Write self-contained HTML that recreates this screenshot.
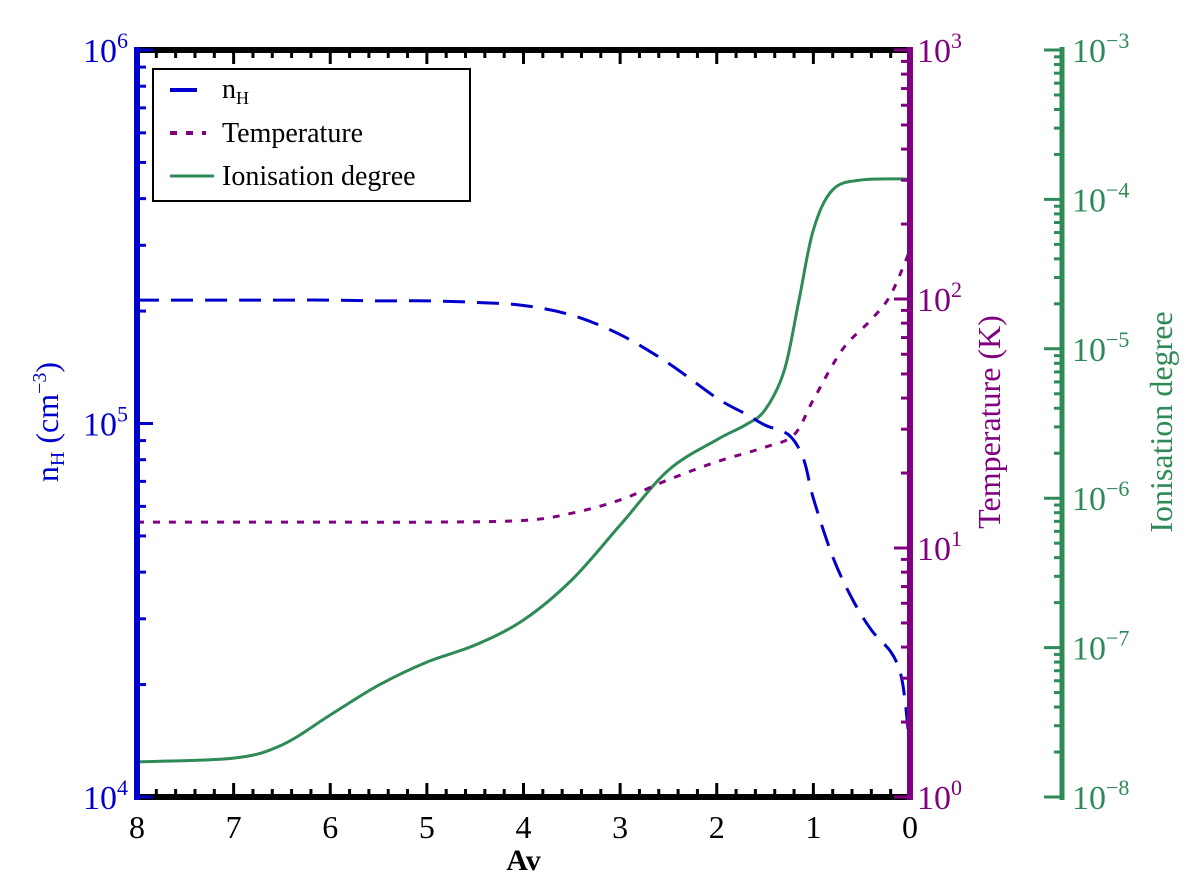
<!DOCTYPE html>
<html><head><meta charset="utf-8"><style>
body{margin:0;background:#fff;}
svg{display:block;font-family:"Liberation Serif",serif;}
</style></head><body>
<svg id="chart" width="1200" height="878" viewBox="0 0 1200 878" xmlns="http://www.w3.org/2000/svg">
<g id="marks"></g>
</svg>
<script>
const av = [8,7,6.5,6,5.5,5,4.5,4,3.5,3,2.5,2,1.7,1.5,1.25,1.1,1,0.8,0.6,0.4,0.2,0.1,0.05,0];
const nH = [2.14e5,2.14e5,2.14e5,2.14e5,2.13e5,2.13e5,2.11e5,2.07e5,1.95e5,1.73e5,1.45e5,1.17e5,1.06e5,9.9e4,9.3e4,8.0e4,6.3e4,4.4e4,3.4e4,2.8e4,2.45e4,2.15e4,1.8e4,1.34e4];
const avT = [8,7,6,5,4,3.5,3,2.5,2,1.5,1.2,1,0.7,0.4,0.2,0];
const temp = [12.7,12.7,12.7,12.7,12.9,13.8,15.6,18.8,22.2,25.4,28.5,39.4,62.6,82.7,104,157];
const avI = [8,7,6.5,6,5.5,5,4.5,4,3.5,3,2.5,2,1.7,1.5,1.3,1.15,1,0.8,0.5,0];
const ion = [1.72e-8,1.82e-8,2.23e-8,3.54e-8,5.6e-8,8.0e-8,1.04e-7,1.53e-7,2.84e-7,6.6e-7,1.54e-6,2.46e-6,3.1e-6,3.9e-6,7.2e-6,2.1e-5,6.25e-5,1.16e-4,1.35e-4,1.37e-4];
const xTicks = [8,7,6,5,4,3,2,1,0];

const L=137,R=910,T=50,B=797,G=1062;
const BLUE='#0000cc',PUR='#800080',GRN='#2e8b57';
const xs=v=>R-(v/8)*(R-L);
const yN=v=>B-(Math.log10(v)-4)/2*(B-T);
const yT=v=>B-(Math.log10(v))/3*(B-T);
const yI=v=>B-(Math.log10(v)+8)/5*(B-T);
const g=document.getElementById('marks');
const NS='http://www.w3.org/2000/svg';
function el(tag,attrs,parent){const e=document.createElementNS(NS,tag);for(const k in attrs)e.setAttribute(k,attrs[k]);(parent||g).appendChild(e);return e;}
function smooth(pts){let d='M'+pts[0][0]+','+pts[0][1];for(let i=0;i<pts.length-1;i++){const p0=pts[i-1]||pts[i],p1=pts[i],p2=pts[i+1],p3=pts[i+2]||p2;const c1x=p1[0]+(p2[0]-p0[0])/6,c1y=p1[1]+(p2[1]-p0[1])/6,c2x=p2[0]-(p3[0]-p1[0])/6,c2y=p2[1]-(p3[1]-p1[1])/6;d+=' C'+c1x+','+c1y+' '+c2x+','+c2y+' '+p2[0]+','+p2[1];}return d;}
function text(x,y,str,attrs){const t=el('text',Object.assign({x:x,y:y},attrs));t.innerHTML=str;return t;}

let p=el('path',{d:smooth(ion.map((v,i)=>[xs(avI[i]),yI(v)])),fill:'none',stroke:GRN,'stroke-width':3});


p=el('path',{d:smooth(temp.map((v,i)=>[xs(avT[i]),yT(v)])),fill:'none',stroke:PUR,'stroke-width':3,'stroke-dasharray':'7 9'});


p=el('path',{d:smooth(nH.map((v,i)=>[xs(av[i]),yN(v)])),fill:'none',stroke:BLUE,'stroke-width':3,'stroke-dasharray':'22 12'});



for(let k=0;k<=40;k++){const v=k*0.2;const x=xs(v);const major=k%5===0;const len=major?14:8;
 el('line',{x1:x,x2:x,y1:B,y2:B-len,stroke:'#000','stroke-width':3});
 el('line',{x1:x,x2:x,y1:T,y2:T+len,stroke:'#000','stroke-width':3});}
xTicks.forEach(v=>{const t=text(xs(v),838,String(v),{'font-size':32,'text-anchor':'middle',fill:'#000'});
 
 });
el('line',{x1:L,x2:R,y1:B,y2:B,stroke:'#000','stroke-width':6});
el('line',{x1:L,x2:R,y1:T,y2:T,stroke:'#000','stroke-width':6});

function logTicks(x,dir,decades,scale,color,lenMaj,lenMin){
 for(let d=0;d<decades;d++){for(let m=1;m<=9;m++){const y=B-(d+Math.log10(m))*scale;const len=m===1?lenMaj:lenMin;
  el('line',{x1:x,x2:x+dir*len,y1:y,y2:y,stroke:color,'stroke-width':3});}}
 el('line',{x1:x,x2:x+dir*lenMaj,y1:T,y2:T,stroke:color,'stroke-width':3});}
logTicks(L,1,2,(B-T)/2,BLUE,16,9);
logTicks(R,-1,3,(B-T)/3,PUR,16,9);
logTicks(G,-1,5,(B-T)/5,GRN,18,8);
el('line',{x1:L,x2:L,y1:T-3,y2:B+3,stroke:BLUE,'stroke-width':6});
el('line',{x1:R,x2:R,y1:T-3,y2:B+3,stroke:PUR,'stroke-width':6});
el('line',{x1:G,x2:G,y1:T-3,y2:B+3,stroke:GRN,'stroke-width':5});

for(let i=0;i<=2;i++){const t=text(128,B-i*(B-T)/2+12,'10<tspan dy="-14" font-size="22">'+(4+i)+'</tspan>',{'font-size':34,'text-anchor':'end',fill:BLUE});
 
 }
for(let i=0;i<=3;i++){const t=text(917,B-i*(B-T)/3+12,'10<tspan dy="-14" font-size="22">'+i+'</tspan>',{'font-size':34,fill:PUR});
 
 }
for(let i=0;i<=5;i++){const t=text(1072,B-i*(B-T)/5+12,'10<tspan dy="-14" font-size="22">−'+(8-i)+'</tspan>',{'font-size':34,fill:GRN});
 
 }

let t=text(xs(4),870,'Av',{'font-size':30,'font-weight':'bold','text-anchor':'middle',fill:'#000'});


t=text(0,0,'n<tspan font-size="20" dy="6">H</tspan><tspan dy="-6"> (cm</tspan><tspan font-size="20" dy="-12">−3</tspan><tspan dy="12">)</tspan>',{'font-size':32,fill:BLUE,'text-anchor':'middle',transform:'translate(58,422) rotate(-90)'});


t=text(0,0,'Temperature (K)',{'font-size':32,fill:PUR,'text-anchor':'middle',transform:'translate(1000,422) rotate(-90)'});


t=text(0,0,'Ionisation degree',{'font-size':32,fill:GRN,'text-anchor':'middle',transform:'translate(1172,422) rotate(-90)'});



const lg=el('g',{});


el('rect',{x:153,y:69,width:317,height:132,fill:'#fff',stroke:'#000','stroke-width':2},lg);
el('line',{x1:170,x2:197,y1:90,y2:90,stroke:BLUE,'stroke-width':4},lg);
el('line',{x1:170,x2:206,y1:133,y2:133,stroke:PUR,'stroke-width':4,'stroke-dasharray':'7 9'},lg);
el('line',{x1:170,x2:214,y1:176,y2:176,stroke:GRN,'stroke-width':3},lg);
const l1=el('text',{x:222,y:98,'font-size':28},lg);l1.innerHTML='n<tspan font-size="18" dy="6">H</tspan>';


const l2=el('text',{x:222,y:142,'font-size':28},lg);l2.textContent='Temperature';


const l3=el('text',{x:222,y:185,'font-size':28},lg);l3.textContent='Ionisation degree';


</script>
</body></html>
